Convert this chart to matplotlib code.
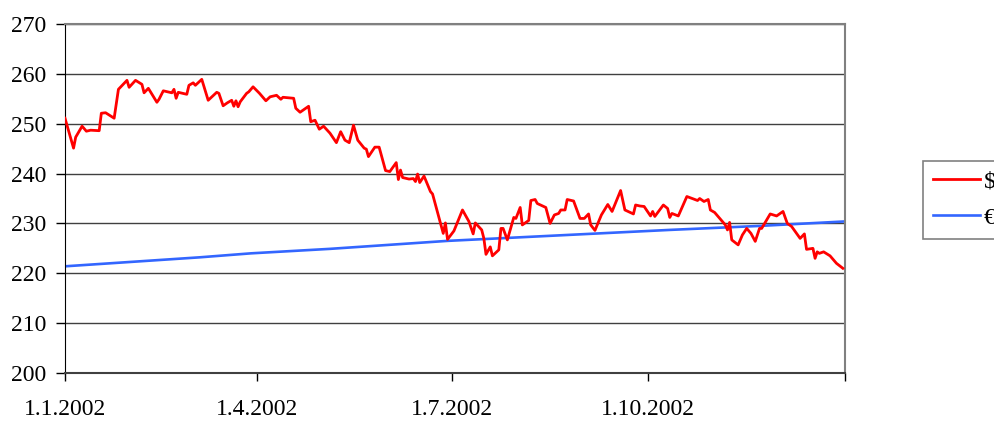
"""
Daily price in dollars vs euros over 2002
"""
import matplotlib.pyplot as plt
import numpy as np

# pylint: disable=invalid-name

plt.rcParams['font.family'] = ['Liberation Serif', 'DejaVu Serif']

start = np.datetime64('2002-01-01')

# red series ($): day offset from 1.1.2002 and value
usd_days = [0, 4, 5, 8, 10, 12, 16, 17, 19, 23, 25, 29, 30, 33, 36, 37, 39,
            43, 44, 46, 50, 51, 52, 53, 57, 58, 60, 61, 64, 67, 71, 72, 74,
            76, 78, 79, 80, 81, 82, 85, 86, 88, 91, 94, 96, 99, 101, 102, 107,
            108, 110, 114, 115, 117, 119, 121, 124, 127, 129, 131, 133, 135,
            137, 140, 141, 142, 145, 147, 150, 152, 155, 156, 157, 158, 161,
            163, 164, 165, 166, 168, 171, 172, 177, 178, 179, 182, 186, 189,
            191, 192, 195, 196, 197, 199, 200, 203, 204, 205, 207, 210, 211,
            213, 214, 217, 218, 220, 221, 225, 227, 229, 231, 232, 234, 235,
            238, 241, 243, 245, 246, 248, 251, 254, 256, 260, 262, 266, 267,
            269, 271, 274, 275, 276, 280, 282, 283, 284, 287, 291, 296, 297,
            299, 301, 302, 304, 309, 310, 311, 312, 315, 317, 319, 321, 323,
            325, 326, 330, 333, 336, 338, 340, 344, 346, 347, 350, 351, 352,
            353, 355, 358, 361, 364]
usd_vals = [251.1, 245.1, 247.3, 249.5, 248.5, 248.7, 248.6, 252.1, 252.2,
            251.1, 256.9, 258.7, 257.3, 258.7, 257.9, 256.2, 257.1, 254.3,
            254.9, 256.6, 256.2, 256.9, 255.1, 256.3, 255.9, 257.7, 258.2,
            257.7, 258.9, 254.7, 256.3, 256.1, 253.6, 254.2, 254.7, 253.5,
            254.6, 253.4, 254.4, 256.1, 256.4, 257.4, 256.1, 254.6, 255.4,
            255.7, 254.9, 255.3, 255.1, 253.1, 252.3, 253.5, 250.4, 250.7,
            248.9, 249.5, 248.1, 246.2, 248.4, 246.7, 246.2, 249.7, 246.7,
            245.1, 244.9, 243.4, 245.3, 245.3, 240.6, 240.4, 242.2, 238.8,
            240.7, 239.2, 238.9, 239.0, 238.4, 239.9, 238.2, 239.5, 236.4,
            235.9, 228.0, 230.1, 226.8, 228.5, 232.7, 230.4, 227.9, 230.1,
            228.7, 227.0, 223.8, 225.3, 223.5, 224.7, 229.0, 229.0, 226.7,
            231.2, 231.0, 233.2, 229.7, 230.6, 234.6, 234.8, 234.0, 233.2,
            230.0, 231.7, 232.0, 232.7, 232.7, 234.8, 234.5, 231.0, 231.0,
            231.9, 229.7, 228.6, 231.7, 233.8, 232.4, 236.6, 232.7, 231.9,
            233.7, 233.5, 233.4, 231.5, 232.4, 231.4, 233.7, 233.0, 231.2,
            232.0, 231.5, 235.4, 234.6, 235.0, 234.4, 234.8, 232.7, 232.2,
            229.7, 228.7, 230.2, 226.7, 225.7, 227.7, 229.0, 228.0, 226.4,
            229.0, 229.0, 231.9, 231.5, 232.4, 230.0, 229.4, 227.0, 227.9,
            224.8, 225.0, 223.0, 224.3, 224.0, 224.3, 223.5, 222.0, 221.0]

# blue series (€)
eur_days = [0, 63, 87, 124, 179, 283, 325, 365]
eur_vals = [221.4, 223.2, 224.0, 224.9, 226.5, 228.7, 229.5, 230.4]

tick_days = [0, 90, 181, 273, 365]
tick_labels = ['1.1.2002', '1.4.2002', '1.7.2002', '1.10.2002', '']

usd_dates = start + np.array(usd_days).astype('timedelta64[D]')
eur_dates = start + np.array(eur_days).astype('timedelta64[D]')
tick_dates = start + np.array(tick_days).astype('timedelta64[D]')

fig = plt.figure(figsize=(9.94, 4.21), dpi=100)
ax = fig.add_axes([65/994, 1 - 373/421, 780/994, 349/421])

ax.plot(usd_dates, usd_vals, color='#FF0000', lw=2.0, label='$', zorder=3)
ax.plot(eur_dates, eur_vals, color='#3366FF', lw=1.9, label='€', zorder=2)

ax.set_xlim(tick_dates[0], tick_dates[-1])
ax.set_ylim(200, 270)
ax.set_yticks(range(200, 271, 10))
ax.set_xticks(tick_dates)
ax.set_xticklabels(tick_labels)

ax.grid(axis='y', color='#404040', lw=1.0)
ax.set_axisbelow(True)
for side in ('top', 'right'):
    ax.spines[side].set_color('#808080')
    ax.spines[side].set_linewidth(1.5)
ax.spines['left'].set_color('black')
ax.spines['bottom'].set_color('#404040')
ax.spines['bottom'].set_linewidth(1.5)

ax.tick_params(axis='y', direction='out', length=6.5, width=1,
               pad=7, labelsize=17)
ax.tick_params(axis='x', direction='out', length=6, width=1,
               pad=12.5, labelsize=17)

leg = fig.legend(loc='upper left', bbox_to_anchor=(923/994, 1 - 161/421),
                 fontsize=17, frameon=True, fancybox=False,
                 handlelength=2.0, handletextpad=0.15, labelspacing=0.62,
                 borderpad=0.42, borderaxespad=0)
leg.get_frame().set_edgecolor('#606060')
leg.get_frame().set_linewidth(1.2)

fig.savefig('out.png', dpi=100)
